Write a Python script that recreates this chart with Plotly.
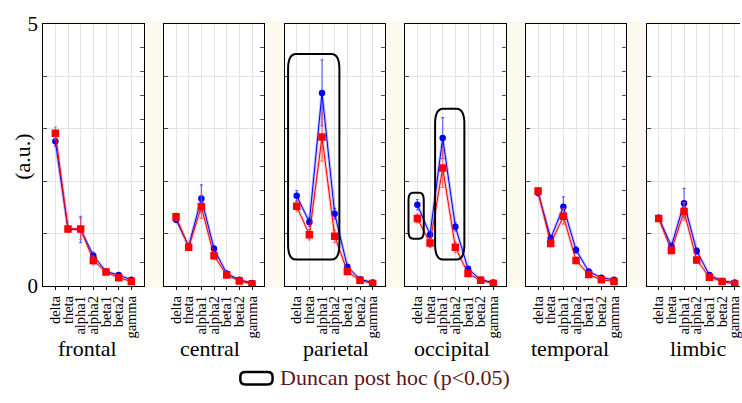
import plotly.graph_objects as go

W, H = 742, 403

bands = ["delta", "theta", "alpha1", "alpha2", "beta1", "beta2", "gamma"]
regions = ["frontal", "central", "parietal", "occipital", "temporal", "limbic"]

blue_frontal = [2.76, 1.09, 1.08, 0.58, 0.28, 0.21, 0.12]
blue_frontal_err = [0.10, 0.05, 0.25, 0.07, 0.04, 0.03, 0.02]
red_frontal = [2.91, 1.09, 1.09, 0.49, 0.27, 0.16, 0.09]
red_frontal_err = [0.12, 0.05, 0.20, 0.08, 0.04, 0.03, 0.02]

blue_central = [1.27, 0.76, 1.67, 0.71, 0.24, 0.12, 0.06]
blue_central_err = [0.06, 0.05, 0.26, 0.06, 0.03, 0.02, 0.01]
red_central = [1.32, 0.74, 1.51, 0.58, 0.21, 0.10, 0.04]
red_central_err = [0.07, 0.05, 0.22, 0.07, 0.03, 0.02, 0.01]

blue_parietal = [1.72, 1.22, 3.68, 1.38, 0.37, 0.13, 0.07]
blue_parietal_err = [0.10, 0.08, 0.63, 0.10, 0.04, 0.02, 0.01]
red_parietal = [1.52, 0.98, 2.84, 0.95, 0.28, 0.11, 0.05]
red_parietal_err = [0.09, 0.10, 0.46, 0.12, 0.04, 0.02, 0.01]

blue_occipital = [1.55, 0.98, 2.82, 1.13, 0.33, 0.12, 0.07]
blue_occipital_err = [0.10, 0.06, 0.39, 0.08, 0.04, 0.02, 0.01]
red_occipital = [1.29, 0.82, 2.25, 0.74, 0.24, 0.11, 0.05]
red_occipital_err = [0.08, 0.08, 0.37, 0.10, 0.04, 0.02, 0.01]

blue_temporal = [1.78, 0.91, 1.51, 0.69, 0.28, 0.16, 0.12]
blue_temporal_err = [0.06, 0.06, 0.19, 0.06, 0.03, 0.02, 0.02]
red_temporal = [1.81, 0.81, 1.33, 0.49, 0.22, 0.12, 0.09]
red_temporal_err = [0.06, 0.06, 0.15, 0.06, 0.03, 0.02, 0.02]

blue_limbic = [1.30, 0.76, 1.58, 0.67, 0.21, 0.10, 0.07]
blue_limbic_err = [0.05, 0.06, 0.28, 0.06, 0.03, 0.02, 0.01]
red_limbic = [1.29, 0.68, 1.42, 0.50, 0.17, 0.09, 0.04]
red_limbic_err = [0.05, 0.06, 0.17, 0.06, 0.03, 0.02, 0.01]

blue_series = [blue_frontal, blue_central, blue_parietal, blue_occipital, blue_temporal, blue_limbic]
blue_errs = [blue_frontal_err, blue_central_err, blue_parietal_err, blue_occipital_err, blue_temporal_err, blue_limbic_err]
red_series = [red_frontal, red_central, red_parietal, red_occipital, red_temporal, red_limbic]
red_errs = [red_frontal_err, red_central_err, red_parietal_err, red_occipital_err, red_temporal_err, red_limbic_err]

# significance boxes: (panel index, x0, x1, y0, y1) in data units
sig_boxes = [
    (3, -0.68, 3.37, 0.505, 4.42),
    (4, -0.70, 0.505, 0.904, 1.777),
    (4, 1.40, 3.71, 0.505, 3.38),
]
legend_label = "Duncan post hoc (p&lt;0.05)"
y_title = "(a.u.)"

FONT = "Liberation Serif"
CREAM = "#FDF9EE"
GRID = "#E3E3E3"

panel_left_px = [43.3, 164.3, 285.3, 406.3, 527.3, 648.3]
panel_w_px = 100.6
px_per_cat = 12.7
y_top_px, y_bot_px = 12.3, 291.5
title_center_px = [88, 211, 337, 453, 572, 700]


def rrect(x0, x1, y0, y1, rx, ry):
    f = lambda v: f"{v:.5f}"
    return (f"M{f(x0+rx)},{f(y0)} L{f(x1-rx)},{f(y0)} Q{f(x1)},{f(y0)} {f(x1)},{f(y0+ry)} "
            f"L{f(x1)},{f(y1-ry)} Q{f(x1)},{f(y1)} {f(x1-rx)},{f(y1)} "
            f"L{f(x0+rx)},{f(y1)} Q{f(x0)},{f(y1)} {f(x0)},{f(y1-ry)} "
            f"L{f(x0)},{f(y0+ry)} Q{f(x0)},{f(y0)} {f(x0+rx)},{f(y0)} Z")


fig = go.Figure()
layout = {}
shapes = []
annotations = []

ydom = [1 - y_bot_px / H, 1 - y_top_px / H]
y_px_per_unit = (y_bot_px - y_top_px) / 5.0

# backgrounds
shapes.append(dict(type="rect", xref="paper", yref="paper", x0=40 / W, x1=1, y0=1 - 293 / H, y1=1 - 9 / H,
                   fillcolor=CREAM, line=dict(width=0), layer="below"))

for i in range(6):
    n = i + 1
    xs = "" if n == 1 else str(n)
    left = panel_left_px[i]
    right = min(left + panel_w_px, W)
    shapes.append(dict(type="rect", xref="paper", yref="paper", x0=left / W, x1=right / W,
                       y0=ydom[0], y1=ydom[1], fillcolor="white", line=dict(width=0), layer="below"))
    r0 = -12.2 / px_per_cat
    r1 = r0 + (right - left) / px_per_cat

    # halo lines
    for vals, col in [(blue_series[i], "rgba(100,100,255,0.4)"), (red_series[i], "rgba(255,110,110,0.4)")]:
        fig.add_trace(go.Scatter(x=bands, y=vals, mode="lines", line=dict(color=col, width=3),
                                 xaxis="x" + xs, yaxis="y" + xs, showlegend=False, hoverinfo="skip"))
    fig.add_trace(go.Scatter(
        x=bands, y=blue_series[i], mode="lines+markers",
        line=dict(color="#0000FF", width=1),
        marker=dict(symbol="circle", size=6.5, color="#0000FF"),
        error_y=dict(type="data", array=blue_errs[i], color="rgba(60,60,255,0.8)", thickness=1.2, width=1.5),
        xaxis="x" + xs, yaxis="y" + xs, showlegend=False))
    fig.add_trace(go.Scatter(
        x=bands, y=red_series[i], mode="lines+markers",
        line=dict(color="#FF0000", width=1),
        marker=dict(symbol="square", size=7.5, color="#FF0000"),
        error_y=dict(type="data", array=red_errs[i], color="rgba(255,70,70,0.8)", thickness=1.2, width=1.5),
        xaxis="x" + xs, yaxis="y" + xs, showlegend=False))

    layout["xaxis" + xs] = dict(
        domain=[left / W, right / W], anchor="y" + xs, type="category",
        categoryorder="array", categoryarray=bands, range=[r0, r1],
        tickmode="array", tickvals=bands, ticktext=bands,
        showgrid=True, gridcolor=GRID, gridwidth=1, zeroline=False,
        showline=True, linecolor="black", linewidth=1, mirror=True,
        ticks="outside", ticklen=3, tickcolor="black", tickangle=-90,
        tickfont=dict(family=FONT, size=14.5, color="black"), fixedrange=True)
    layout["yaxis" + xs] = dict(
        domain=ydom, anchor="x" + xs, range=[0, 5],
        tickvals=[0, 1, 2, 3, 4, 5], ticktext=["0", "", "", "", "", "5"],
        showticklabels=(n == 1), ticks="inside", ticklen=4, tickcolor="#444",
        showgrid=True, gridcolor=GRID, gridwidth=1, zeroline=False,
        showline=True, linecolor="black", linewidth=1, mirror=(n != 6),
        tickfont=dict(family=FONT, size=21, color="black"), fixedrange=True)

    if n != 6:
        rn = str(6 + n)
        fig.add_trace(go.Scatter(x=[], y=[], xaxis="x" + xs, yaxis="y" + rn, showlegend=False, hoverinfo="skip"))
        layout["yaxis" + rn] = dict(
            overlaying="y" + xs, anchor="x" + xs, side="right", range=[0, 11], dtick=1,
            ticks="inside", ticklen=4, tickcolor="#555", showticklabels=False,
            showgrid=False, zeroline=False, showline=False, fixedrange=True)

    annotations.append(dict(text=regions[i], xref="paper", yref="paper", x=title_center_px[i] / W,
                            y=1 - 358 / H, showarrow=False, xanchor="center", yanchor="middle",
                            font=dict(family=FONT, size=22, color="black")))

annotations.append(dict(text=y_title, xref="paper", yref="paper", x=23 / W, y=1 - 154 / H,
                        showarrow=False, textangle=-90, xanchor="center", yanchor="middle",
                        font=dict(family=FONT, size=22, color="black")))

for (p, x0, x1, y0, y1) in sig_boxes:
    xs = "" if p == 1 else str(p)
    w_units = (x1 - x0)
    h_units = (y1 - y0)
    rx = min(8 / px_per_cat, w_units * 0.3)
    ry = min(16 / y_px_per_unit, h_units * 0.15)
    shapes.append(dict(type="path", xref="x" + xs, yref="y" + xs, path=rrect(x0, x1, y0, y1, rx, ry),
                       line=dict(color="black", width=2), layer="above"))

# legend
lx0, lx1, ly0, ly1 = 241 / W, 273.3 / W, 1 - 396 / H, 1 - 382.7 / H
shapes.append(dict(type="path", xref="paper", yref="paper",
                   path=rrect(lx0, lx1, ly0, ly1, 5 / W, 5 / H),
                   line=dict(color="black", width=2.5)))
annotations.append(dict(text=legend_label, xref="paper", yref="paper", x=279 / W, y=1 - 389 / H,
                        showarrow=False, xanchor="left", yanchor="middle",
                        font=dict(family=FONT, size=22, color="#5E1616")))

fig.update_layout(
    width=W, height=H, margin=dict(l=0, r=0, t=0, b=0),
    paper_bgcolor="white", plot_bgcolor="rgba(0,0,0,0)",
    shapes=shapes, annotations=annotations, showlegend=False,
    **layout)

fig.write_html("out.html")
